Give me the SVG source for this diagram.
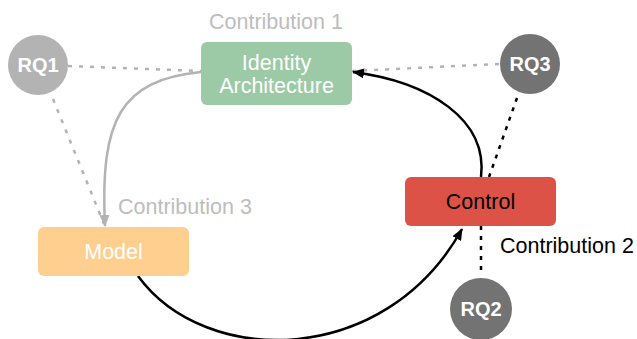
<svg xmlns="http://www.w3.org/2000/svg" width="637" height="339" viewBox="0 0 637 339">
<defs>
<marker id="ab" viewBox="0 0 12 10" refX="11" refY="5" markerWidth="12" markerHeight="10" markerUnits="userSpaceOnUse" orient="auto"><path d="M0,0 L12,5 L0,10 Z" fill="#000"/></marker>
<marker id="ag" viewBox="0 0 12 10" refX="11" refY="5" markerWidth="12" markerHeight="10" markerUnits="userSpaceOnUse" orient="auto"><path d="M0,0 L12,5 L0,10 Z" fill="#b3b3b3"/></marker>
</defs>
<style>
text{font-family:"Liberation Sans",Arial,sans-serif;font-size:21.5px}
.rq{font-weight:bold;font-size:20px;fill:#fff;text-anchor:middle}
.lbl{fill:#fff;text-anchor:middle}
.c{fill:#bdbdbd}
.dg{fill:none;stroke:#b3b3b3;stroke-width:2.5;stroke-dasharray:4 7}
.db{fill:none;stroke:#000;stroke-width:2.5;stroke-dasharray:4 6}
.sb{fill:none;stroke:#000;stroke-width:2.5}
.sg{fill:none;stroke:#b3b3b3;stroke-width:2.5}
</style>
<g id="connectors">
<path class="dg" d="M68,66 L201,71"/>
<path class="dg" d="M499,64 L352,71"/>
<path class="dg" d="M53,99 L104,224"/>
<path class="db" d="M517,98 L489,177"/>
<path class="db" d="M481,226 L481,276"/>
<path class="sg" d="M201,72 C120,80 100,120 105,226" marker-end="url(#ag)"/>
<path class="sb" d="M481,177 C488,120 430,82 353,72" marker-end="url(#ab)"/>
<path class="sb" d="M138,276 C205,368 385,368 462,229" marker-end="url(#ab)"/>
</g>
<g id="rq1"><circle cx="38" cy="65" r="30" fill="#b3b3b3"/><text class="rq" x="38" y="72">RQ1</text></g>
<g id="rq3"><circle cx="530" cy="64" r="30" fill="#737373"/><text class="rq" x="530" y="71">RQ3</text></g>
<g id="rq2"><circle cx="481" cy="309" r="31" fill="#737373"/><text class="rq" x="481" y="316">RQ2</text></g>
<g id="identity"><rect x="201" y="42" width="151" height="63" rx="6" fill="#9ccaa6"/><text class="lbl" x="276.5" y="70">Identity</text><text class="lbl" x="276.5" y="93">Architecture</text></g>
<g id="model"><rect x="38" y="227" width="151" height="49" rx="6" fill="#fecf8f"/><text class="lbl" x="113.5" y="259">Model</text></g>
<g id="control"><rect x="405" y="177" width="151" height="49" rx="6" fill="#dc5246"/><text x="480.5" y="209" text-anchor="middle" fill="#000">Control</text></g>
<text class="c" x="209" y="29">Contribution 1</text>
<text class="c" x="118" y="214">Contribution 3</text>
<text x="500" y="253" fill="#000">Contribution 2</text>
</svg>
